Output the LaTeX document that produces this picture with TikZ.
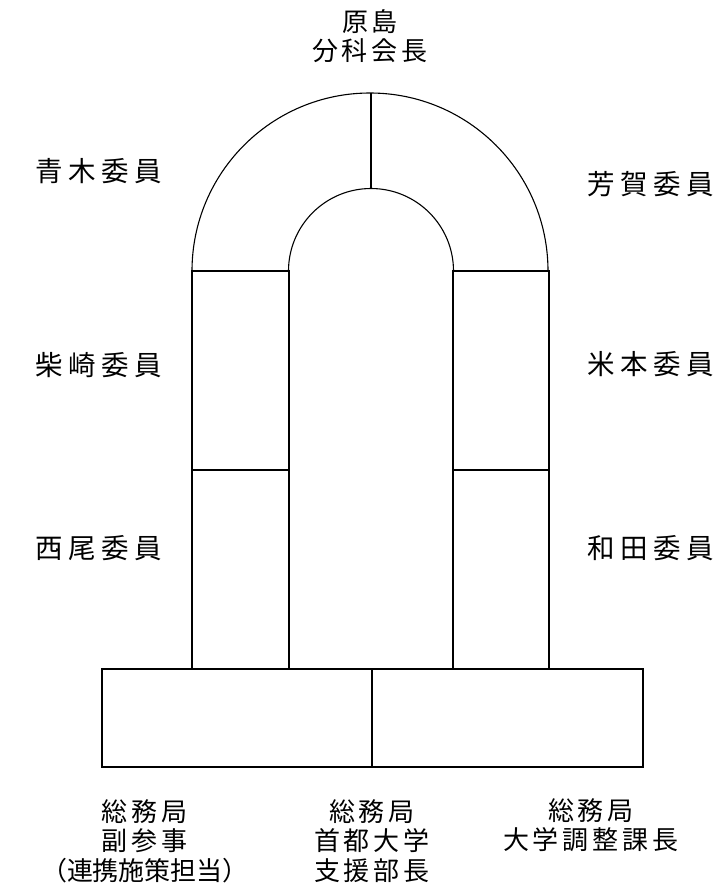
\documentclass[tikz,border=0pt]{standalone}
\usepackage{fontspec}
\newfontfamily\jpfont{Noto Sans CJK JP}
\newcommand\gapA{\hspace{4pt}}
\newcommand\gapB{\hspace{5.5pt}}
\tikzset{
  arcline/.style={line width=1.1pt},
  boxline/.style={line width=2.3pt},
  lbl/.style={font=\jpfont\fontsize{26}{29.5}\selectfont, align=center, inner sep=0pt},
  side/.style={font=\jpfont\fontsize{27.5}{32}\selectfont, inner sep=0pt},
}
\begin{document}
\begin{tikzpicture}[x=1pt,y=-1pt]
\useasboundingbox (0,0) rectangle (722,892);
\fill[white] (0,0) rectangle (722,892);
% arch
\draw[arcline] (192,271) arc[start angle=180,end angle=360,radius=178];
\draw[arcline] (288.5,271) arc[start angle=180,end angle=360,radius=82.5];
\draw[boxline] (371,93) -- (371,188.5);
% side columns
\draw[boxline] (192,271) rectangle (289,470);
\draw[boxline] (192,470) rectangle (289,669);
\draw[boxline] (453,271) rectangle (549,470);
\draw[boxline] (453,470) rectangle (549,669);
% front table
\draw[boxline] (102,669) rectangle (643,767);
\draw[boxline] (372,669) -- (372,767);
% labels
\node[lbl] (chair) at (370,36) {原\gapA 島\\分\gapA 科\gapA 会\gapA 長};
\node[side] (aoki) at (99,171) {青\gapB 木\gapB 委\gapB 員};
\node[side] (shiba) at (99,365) {柴\gapB 崎\gapB 委\gapB 員};
\node[side] (nishio) at (99,548) {西\gapB 尾\gapB 委\gapB 員};
\node[side] (haga) at (651,184) {芳\gapB 賀\gapB 委\gapB 員};
\node[side] (yone) at (651,364) {米\gapB 本\gapB 委\gapB 員};
\node[side] (wada) at (651,548) {和\gapB 田\gapB 委\gapB 員};
\node[lbl] (soumu1) at (145,841) {総\gapA 務\gapA 局\\副\gapA 参\gapA 事\\（連携施策担当）};
\node[lbl] (soumu2) at (372,841) {総\gapA 務\gapA 局\\首\gapA 都\gapA 大\gapA 学\\支\gapA 援\gapA 部\gapA 長};
\node[lbl] (soumu3) at (591,825) {総\gapA 務\gapA 局\\大\gapA 学\gapA 調\gapA 整\gapA 課\gapA 長};
\end{tikzpicture}
\end{document}
